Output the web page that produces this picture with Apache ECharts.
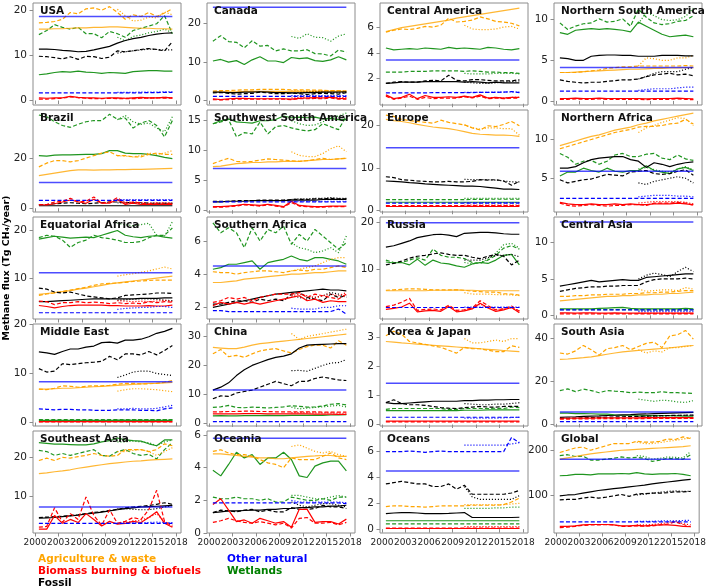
<!DOCTYPE html>
<html>
<head>
<meta charset="utf-8">
<script src="https://cdn.jsdelivr.net/npm/echarts@6/dist/echarts.min.js"></script>
<style>
html, body { margin: 0; padding: 0; background: #fff; }
#chart { width: 709px; height: 588px; }
</style>
</head>
<body>
<div id="chart"></div>
<script>
var years = [2000, 2001, 2002, 2003, 2004, 2005, 2006, 2007, 2008, 2009, 2010, 2011, 2012, 2013, 2014, 2015, 2016, 2017];
var dotYears = [2010, 2011, 2012, 2013, 2014, 2015, 2016, 2017];
var xTicks = [2000, 2003, 2006, 2009, 2012, 2015, 2018];

var regions = ['USA', 'Canada', 'Central America', 'Northern South America',
    'Brazil', 'Southwest South America', 'Europe', 'Northern Africa',
    'Equatorial Africa', 'Southern Africa', 'Russia', 'Central Asia',
    'Middle East', 'China', 'Korea & Japan', 'South Asia',
    'Southeast Asia', 'Oceania', 'Oceans', 'Global'];

var yTicks = [[0, 10, 20], [0, 10, 20], [2, 4, 6], [0, 5, 10],
    [0, 20], [0, 5, 10, 15], [0, 10, 20], [5, 10],
    [10, 20], [2, 4, 6], [10, 20], [0, 5, 10],
    [0, 10, 20], [0, 10, 20, 30], [0, 1, 2, 3], [0, 20, 40],
    [10, 20], [0, 2, 4, 6], [0, 2, 4, 6], [100, 200]];

var yRange = [[-1.0, 21.6], [-1.1, 25.1], [-0.1, 7.95], [-0.5, 12.05],
    [-1.5, 39.2], [-0.3, 16.8], [-0.3, 23.7], [0.65, 13.8],
    [1.6, 22.8], [1.3, 7.45], [-0.3, 21.0], [-0.5, 13.5],
    [-0.7, 20.1], [-0.9, 34.3], [-0.05, 3.45], [-1.0, 46.5],
    [0.5, 26.8], [0.0, 6.25], [-0.3, 7.6], [15, 243]];

// each source: [solid, dashed, dotted (2010-2017)]
// a = agriculture & waste, b = biomass burning & biofuels, f = fossil, o = other natural, w = wetlands
var usa = {
    a: [[15.8,15.8,15.9,15.9,16.0,16.1,16.1,16.2,16.2,16.3,16.3,16.2,16.1,16.0,16.0,15.9,15.9,15.8],
        [17.2,17.3,17.5,18.0,19.5,19.2,20.3,20.5,20.0,20.8,19.5,18.0,19.0,18.6,19.5,18.6,19.4,20.3],
        [20.2,18.8,17.6,17.8,18.5,18.3,19.6,19.0]],
    b: [[0.6,0.5,0.6,0.6,0.9,0.7,0.6,0.6,0.5,0.6,0.6,0.5,0.6,0.7,0.6,0.6,0.7,0.6],
        [0.3,0.3,0.4,0.5,0.8,0.6,0.5,0.4,0.4,0.5,0.4,0.4,0.4,0.5,0.5,0.6,0.5,0.5],
        [0.5,0.5,0.5,0.6,0.6,0.6,0.7,0.6]],
    f: [[11.4,11.4,11.3,11.1,11.0,10.8,10.9,11.2,11.6,12.0,12.7,13.3,13.7,14.0,14.4,14.7,14.9,15.0],
        [9.8,9.7,9.5,9.2,9.7,9.1,9.8,9.7,9.3,9.6,11.0,10.8,11.0,11.3,11.5,11.3,11.0,13.0],
        [10.5,10.8,11.0,11.2,11.4,11.3,11.2,11.2]],
    o: [[18.6,18.6,18.6,18.6,18.6,18.6,18.6,18.6,18.6,18.6,18.6,18.6,18.6,18.6,18.6,18.6,18.6,18.6],
        [1.7,1.7,1.7,1.7,1.7,1.7,1.7,1.7,1.7,1.7,1.7,1.7,1.7,1.7,1.75,1.75,1.8,1.8],
        [1.8,1.8,1.8,1.85,1.85,1.85,1.9,1.9]],
    w: [[5.7,5.9,6.2,6.4,6.3,6.5,6.3,6.2,6.0,6.2,6.1,6.0,6.4,6.5,6.6,6.6,6.5,6.5],
        [14.6,15.5,16.8,16.2,15.8,16.2,14.8,14.8,13.9,15.3,14.8,14.0,15.5,16.0,16.5,17.0,18.8,14.8],
        [14.0,13.2,14.2,14.5,15.0,15.3,15.8,15.0]]
};
var canada = {
    a: [[2.3,2.3,2.3,2.3,2.4,2.4,2.4,2.4,2.4,2.4,2.4,2.4,2.4,2.4,2.4,2.4,2.4,2.4],
        [2.5,2.6,2.6,2.7,2.8,2.8,2.9,2.9,2.9,2.9,2.8,2.8,2.8,2.7,2.7,2.6,2.6,2.5],
        [2.6,2.6,2.5,2.5,2.6,2.6,2.5,2.5]],
    b: [[0.5,0.3,0.5,0.6,0.6,0.5,0.5,0.5,0.5,0.5,0.4,0.6,0.7,0.8,0.7,0.9,0.6,0.5],
        [0.3,0.2,0.3,0.4,0.4,0.4,0.4,0.4,0.4,0.4,0.3,0.5,0.5,0.6,0.5,0.7,0.4,0.4],
        [0.7,0.8,0.9,1.0,0.9,1.0,0.8,0.8]],
    f: [[2.2,2.2,2.1,2.1,2.2,2.2,2.3,2.2,2.1,2.1,2.0,2.0,2.1,2.1,2.2,2.2,2.2,2.3],
        [2.0,2.1,1.9,1.7,1.8,1.9,2.2,2.0,1.8,1.8,2.0,1.8,1.6,1.8,1.9,1.8,1.7,2.1],
        [2.0,2.1,2.2,2.3,2.2,2.1,2.0,2.2]],
    o: [[24.0,24.0,24.0,24.0,24.0,24.0,24.0,24.0,24.0,24.0,24.0,24.0,24.0,24.0,24.0,24.0,24.0,24.0],
        [1.1,1.1,1.1,1.1,1.1,1.1,1.1,1.1,1.1,1.1,1.1,1.1,1.1,1.1,1.1,1.1,1.1,1.1],
        [1.3,1.3,1.3,1.3,1.3,1.3,1.3,1.3]],
    w: [[10.2,10.6,9.9,10.3,9.3,10.5,11.3,10.2,10.2,9.8,11.1,10.8,11.0,10.3,10.1,10.5,11.3,10.5],
        [15.3,16.7,15.2,15.0,13.6,15.4,14.0,14.2,12.8,13.3,12.8,12.8,13.1,12.1,12.0,11.5,13.0,12.5],
        [16.5,16.0,17.2,16.3,16.2,15.3,16.6,17.2]]
};
var centralAmerica = {
    a: [[5.7,5.85,6.0,6.1,6.2,6.3,6.4,6.5,6.6,6.75,6.85,6.95,7.05,7.15,7.25,7.35,7.45,7.55],
        [5.65,5.8,5.9,5.85,5.95,6.1,6.05,6.2,6.75,6.45,6.5,6.6,6.85,6.7,6.5,6.45,6.35,6.15],
        [6.2,5.9,5.85,5.85,5.9,6.05,6.1,5.9]],
    b: [[0.7,0.4,0.5,0.75,0.4,0.65,0.5,0.5,0.55,0.5,0.6,0.5,0.7,0.45,0.5,0.45,0.5,0.5],
        [0.6,0.35,0.45,0.6,0.35,0.5,0.4,0.45,0.45,0.45,0.55,0.45,0.6,0.4,0.45,0.4,0.45,0.45],
        [0.55,0.5,0.6,0.45,0.5,0.45,0.5,0.5]],
    f: [[1.6,1.65,1.7,1.7,1.7,1.75,1.75,1.75,1.75,1.75,1.7,1.75,1.7,1.65,1.7,1.65,1.65,1.65],
        [1.6,1.7,1.75,1.7,1.7,1.8,1.85,1.8,2.25,1.85,1.8,1.9,1.9,1.85,1.8,1.8,1.8,1.9],
        [1.7,1.65,1.6,1.6,1.65,1.7,1.75,1.8]],
    o: [[3.45,3.45,3.45,3.45,3.45,3.45,3.45,3.45,3.45,3.45,3.45,3.45,3.45,3.45,3.45,3.45,3.45,3.45],
        [0.85,0.85,0.85,0.85,0.85,0.85,0.88,0.88,0.88,0.88,0.88,0.88,0.9,0.9,0.9,0.92,0.95,0.88],
        [0.9,0.9,0.9,0.9,0.92,0.92,0.93,0.92]],
    w: [[4.4,4.25,4.3,4.35,4.3,4.4,4.35,4.3,4.45,4.35,4.4,4.35,4.3,4.45,4.4,4.3,4.25,4.35],
        [2.5,2.5,2.5,2.55,2.55,2.55,2.6,2.6,2.6,2.6,2.55,2.6,2.55,2.5,2.5,2.45,2.45,2.4],
        [2.4,2.35,2.35,2.35,2.4,2.4,2.4,2.35]]
};
var northSouthAmerica = {
    a: [[3.5,3.5,3.55,3.6,3.65,3.7,3.75,3.8,3.85,3.9,3.9,3.95,4.0,4.0,4.05,4.05,4.1,4.1],
        [3.5,3.5,3.5,3.6,3.7,3.8,4.0,4.1,4.2,4.2,4.3,4.3,4.3,4.3,4.3,4.3,4.35,4.3],
        [4.3,5.3,5.2,5.0,5.0,5.3,5.3,5.6]],
    b: [[0.3,0.3,0.35,0.3,0.3,0.35,0.3,0.3,0.3,0.3,0.3,0.25,0.3,0.3,0.3,0.35,0.3,0.25],
        [0.2,0.2,0.25,0.2,0.2,0.25,0.2,0.2,0.2,0.2,0.2,0.15,0.2,0.2,0.2,0.25,0.2,0.15],
        null],
    f: [[5.3,5.2,5.0,5.0,5.5,5.6,5.65,5.65,5.6,5.6,5.5,5.5,5.5,5.6,5.6,5.6,5.55,5.55],
        [2.6,2.4,2.3,2.2,2.3,2.3,2.4,2.5,2.6,2.6,2.7,3.0,3.2,3.3,3.4,3.2,3.3,3.1],
        [2.7,3.0,3.4,3.6,3.6,3.6,3.9,4.1]],
    o: [[4.1,4.1,4.1,4.1,4.1,4.1,4.1,4.1,4.1,4.1,4.1,4.1,4.1,4.1,4.1,4.1,4.1,4.1],
        [1.2,1.2,1.2,1.2,1.2,1.2,1.2,1.2,1.2,1.2,1.2,1.2,1.2,1.2,1.2,1.2,1.2,1.2],
        [1.3,1.4,1.5,1.5,1.5,1.6,1.7,1.7]],
    w: [[8.4,8.2,8.7,8.8,8.9,8.8,8.9,8.8,8.7,8.5,9.7,9.2,8.7,8.2,7.9,8.0,8.1,7.9],
        [9.6,8.8,9.2,9.5,9.6,10.1,9.7,9.8,10.1,9.2,11.3,10.3,9.6,9.4,9.5,9.8,9.9,10.5],
        [9.5,10.9,10.5,10.0,9.9,10.0,10.4,11.4]]
};
var brazil = {
    a: [[13.0,13.5,14.0,14.5,15.0,15.3,15.3,15.2,15.3,15.3,15.4,15.4,15.5,15.5,15.6,15.7,15.8,15.9],
        [16.5,18.0,19.0,19.0,18.5,19.0,20.0,21.0,22.0,22.5,21.0,21.0,20.5,20.5,21.5,22.0,21.5,21.5],
        [21.0,20.8,20.5,21.0,22.0,21.5,22.0,23.0]],
    b: [[1.5,1.3,1.8,2.5,3.3,2.6,2.0,3.6,2.0,2.0,3.5,1.5,2.0,1.5,1.5,1.5,1.5,1.5],
        [1.3,1.5,2.5,2.8,4.0,2.5,2.8,4.5,2.0,2.5,4.2,2.0,2.5,2.0,1.8,2.0,2.0,1.8],
        [3.0,2.5,2.5,2.3,2.0,2.2,2.2,2.0]],
    f: [[1.0,1.0,1.0,1.0,1.0,1.0,1.0,1.0,1.0,1.0,1.0,1.0,1.0,1.0,1.0,1.0,1.0,1.0],
        [1.5,1.5,1.8,2.0,2.2,2.0,1.8,2.0,2.2,2.5,2.5,2.3,2.2,2.2,2.0,2.0,2.0,2.0],
        [2.2,2.0,2.0,2.0,2.0,2.0,2.0,2.0]],
    o: [[10.3,10.3,10.3,10.3,10.3,10.3,10.3,10.3,10.3,10.3,10.3,10.3,10.3,10.3,10.3,10.3,10.3,10.3],
        [3.1,3.1,3.1,3.1,3.1,3.1,3.1,3.1,3.1,3.1,3.1,3.1,3.1,3.1,3.1,3.1,3.1,3.1],
        [3.4,3.4,3.4,3.4,3.4,3.4,3.4,3.4]],
    w: [[21.0,20.8,21.2,21.3,21.3,21.4,21.5,21.5,21.8,23.0,23.0,22.0,21.8,21.8,21.5,21.0,20.3,19.8],
        [37.2,36.5,34.5,33.0,32.3,33.5,34.5,35.0,35.0,37.5,35.5,36.0,32.0,34.0,35.0,33.0,28.5,35.0],
        [35.3,37.0,34.5,33.5,34.0,32.0,30.5,36.5]]
};
var swSouthAmerica = {
    a: [[7.3,7.4,7.6,7.8,7.9,8.0,8.0,8.1,8.1,8.2,8.2,8.2,8.3,8.4,8.5,8.5,8.6,8.7],
        [7.8,8.3,8.7,8.2,8.1,8.2,8.4,8.6,8.5,8.4,8.3,8.2,8.3,8.5,8.7,8.5,8.6,8.7],
        [9.8,9.2,9.0,9.0,9.5,10.3,10.8,9.8]],
    b: [[0.6,0.6,0.7,0.8,1.0,0.9,0.8,1.0,0.8,0.6,1.5,0.8,0.7,0.6,0.6,0.7,0.7,0.7],
        [0.5,0.5,0.6,0.7,0.9,0.8,0.7,0.9,0.7,0.5,1.3,0.7,0.6,0.5,0.5,0.6,0.6,0.6],
        null],
    f: [[1.4,1.4,1.5,1.5,1.5,1.6,1.6,1.6,1.6,1.6,1.7,1.7,1.7,1.7,1.8,1.8,1.8,1.8],
        [1.5,1.5,1.5,1.6,1.6,1.6,1.7,1.7,1.7,1.7,1.8,1.8,1.8,1.9,1.9,2.0,1.9,1.9],
        [1.8,1.9,1.9,2.0,2.0,2.1,2.0,2.0]],
    o: [[7.0,7.0,7.0,7.0,7.0,7.0,7.0,7.0,7.0,7.0,7.0,7.0,7.0,7.0,7.0,7.0,7.0,7.0],
        [1.4,1.4,1.4,1.4,1.4,1.4,1.4,1.4,1.4,1.4,1.4,1.4,1.4,1.4,1.4,1.4,1.4,1.4],
        [1.5,1.5,1.5,1.5,1.5,1.5,1.5,1.5]],
    w: [[14.5,15.0,15.3,14.8,14.7,14.6,15.0,15.0,15.2,15.8,15.5,15.6,15.5,15.6,15.3,15.4,15.2,15.2],
        [14.5,14.8,15.2,12.3,13.0,12.8,14.8,12.8,14.0,14.2,13.8,13.5,13.3,13.5,14.5,14.0,13.5,15.8],
        [15.0,14.5,14.2,14.3,14.8,15.5,15.8,16.3]]
};
var europe = {
    a: [[21.5,21.2,21.0,20.7,20.3,20.0,19.7,19.5,19.3,19.0,18.6,18.2,18.0,17.9,17.8,17.8,17.7,17.5],
        [22.5,22.2,21.5,21.2,21.0,20.8,20.6,21.3,20.8,20.5,20.2,19.5,19.0,20.0,19.8,20.3,21.0,20.0],
        [20.2,19.5,19.2,19.5,19.5,19.3,19.3,17.8]],
    b: [[1.0,1.0,1.0,1.0,1.0,1.0,1.0,1.0,1.0,1.0,1.0,1.0,1.0,1.0,1.0,1.0,1.0,1.0],
        [1.2,1.2,1.2,1.2,1.2,1.2,1.2,1.2,1.2,1.2,1.2,1.2,1.2,1.2,1.2,1.2,1.2,1.2],
        [1.3,1.3,1.3,1.3,1.3,1.3,1.3,1.3]],
    f: [[7.0,6.9,6.8,6.6,6.5,6.3,6.2,6.1,6.0,5.9,5.8,5.8,5.7,5.5,5.3,5.1,5.1,5.0],
        [8.0,7.8,7.3,7.2,7.0,6.9,6.8,6.8,6.9,6.8,6.8,6.9,7.3,7.2,7.3,7.0,6.0,6.9],
        [7.4,7.3,7.3,7.3,7.2,7.0,6.8,6.8]],
    o: [[14.8,14.8,14.8,14.8,14.8,14.8,14.8,14.8,14.8,14.8,14.8,14.8,14.8,14.8,14.8,14.8,14.8,14.8],
        [1.8,1.8,1.8,1.8,1.8,1.8,1.8,1.8,1.8,1.8,1.8,1.8,1.8,1.8,1.8,1.8,1.8,1.8],
        [1.9,1.9,1.9,1.9,1.9,1.9,1.9,1.9]],
    w: [[2.0,2.0,2.0,2.0,2.0,2.0,2.0,2.0,2.0,2.0,2.0,2.0,2.0,2.0,2.0,2.0,2.0,2.0],
        [2.6,2.6,2.6,2.6,2.6,2.6,2.6,2.6,2.6,2.6,2.6,2.65,2.65,2.7,2.7,2.7,2.7,2.7],
        [2.9,2.9,2.9,2.9,2.9,2.9,2.9,2.9]]
};
var northAfrica = {
    a: [[9.2,9.5,9.8,10.1,10.4,10.6,10.9,11.2,11.4,11.6,11.9,12.1,12.4,12.6,12.8,13.0,13.2,13.4],
        [8.8,9.1,9.4,9.7,10.0,10.3,10.6,10.9,11.1,11.3,11.6,11.7,11.7,11.8,12.0,12.1,12.6,12.0],
        [10.9,11.5,11.8,12.2,12.5,12.8,12.7,11.8]],
    b: [[1.9,1.7,1.6,1.6,1.7,1.6,1.6,1.7,1.6,1.7,1.6,1.6,1.7,1.7,1.7,1.8,1.7,1.6],
        [1.8,1.5,1.4,1.5,1.6,1.5,1.4,1.5,1.5,1.6,1.6,1.5,1.8,1.8,1.8,1.9,1.8,1.5],
        [1.8,1.9,2.0,2.0,2.0,2.0,1.9,1.7]],
    f: [[6.3,6.3,6.5,7.0,7.4,7.6,7.7,7.8,7.8,7.4,7.2,6.4,7.0,6.8,6.5,6.8,7.0,7.1],
        [4.8,4.4,4.6,4.8,4.9,5.2,5.5,5.4,5.3,5.8,5.9,6.0,5.6,5.5,5.6,5.9,6.1,5.4],
        [4.4,4.2,4.6,4.8,5.0,5.2,5.0,4.4]],
    o: [[5.9,5.9,5.9,5.9,5.9,5.9,5.9,5.9,5.9,5.9,5.9,5.9,5.9,5.9,5.9,5.9,5.9,5.9],
        [2.4,2.4,2.4,2.4,2.4,2.4,2.4,2.4,2.4,2.4,2.4,2.4,2.4,2.4,2.4,2.4,2.4,2.4],
        [2.6,2.7,2.8,2.8,2.8,2.7,2.7,2.6]],
    w: [[5.3,5.8,5.8,6.3,6.0,5.8,6.3,5.9,5.8,6.0,6.0,6.6,6.0,5.8,5.6,6.2,6.4,6.0],
        [8.2,7.7,6.8,7.2,7.3,6.8,7.2,8.0,8.2,7.8,7.8,8.1,8.2,7.6,7.4,8.0,7.5,7.3],
        [6.2,6.4,6.1,5.9,5.8,6.2,6.5,6.1]]
};
var eqAfrica = {
    a: [[6.7,6.9,7.1,7.3,7.5,7.8,8.0,8.3,8.6,8.9,9.1,9.3,9.5,9.7,9.9,10.1,10.3,10.5],
        [6.5,6.8,7.0,7.3,7.6,7.9,8.2,8.6,8.9,9.0,9.1,9.2,9.4,9.5,9.6,9.7,9.7,9.7],
        [10.5,10.8,11.0,11.3,11.6,12.0,12.4,12.0]],
    b: [[4.4,4.2,3.9,4.2,4.4,4.5,4.5,4.5,4.5,4.4,4.4,4.3,4.3,4.3,4.4,4.3,4.3,4.5],
        [5.3,5.2,4.6,5.0,5.0,5.2,5.0,5.1,5.0,4.8,5.0,4.8,4.9,4.8,5.2,5.0,5.2,5.1],
        [5.4,5.3,5.2,5.3,5.2,5.3,5.5,5.2]],
    f: [[5.2,5.2,5.3,5.4,5.5,5.6,5.7,5.8,5.8,5.8,5.8,5.8,5.8,5.9,5.9,5.9,6.0,6.0],
        [8.0,7.8,7.2,7.0,7.2,6.8,6.4,6.2,6.0,5.8,6.0,6.5,6.6,6.7,6.8,7.0,7.0,6.9],
        [5.5,5.6,5.7,5.8,5.8,5.7,5.5,5.4]],
    o: [[11.2,11.2,11.2,11.2,11.2,11.2,11.2,11.2,11.2,11.2,11.2,11.2,11.2,11.2,11.2,11.2,11.2,11.2],
        [2.9,2.9,2.9,2.9,2.9,2.9,2.9,2.9,2.9,2.9,2.9,2.9,2.9,2.9,2.9,2.9,2.9,2.9],
        [3.6,3.8,3.9,4.0,4.0,4.2,4.2,4.0]],
    w: [[18.2,18.5,18.8,18.6,18.4,18.5,18.6,18.5,19.0,19.5,20.0,19.0,18.7,18.5,18.8,18.9,18.6,18.4],
        [18.5,19.0,18.8,18.0,16.5,17.5,18.0,19.0,18.5,18.3,18.0,17.5,17.5,17.7,18.5,19.0,19.0,20.5],
        [21.5,21.2,21.0,21.2,21.5,19.0,18.8,21.8]]
};
var southAfrica = {
    a: [[3.5,3.5,3.55,3.6,3.7,3.75,3.8,3.85,3.9,3.95,4.0,4.0,4.05,4.1,4.1,4.15,4.2,4.2],
        [4.15,4.1,4.1,4.0,4.1,4.15,4.2,4.2,4.15,4.1,4.2,4.25,4.2,4.3,4.3,4.4,4.5,4.4],
        [4.2,4.3,4.4,4.5,4.7,4.9,5.0,5.0]],
    b: [[2.1,2.3,2.2,2.3,2.2,2.3,2.2,2.3,2.4,2.5,2.6,2.7,2.4,2.5,2.3,2.4,2.35,2.35],
        [2.3,2.4,2.6,2.5,2.6,2.4,2.6,2.7,2.8,2.8,2.8,2.9,2.6,2.8,2.7,2.6,2.5,2.8],
        [2.7,2.8,2.7,2.6,2.7,2.8,2.7,2.9]],
    f: [[2.0,2.1,2.2,2.3,2.4,2.5,2.6,2.7,2.8,2.85,2.9,2.95,3.0,3.05,3.1,3.05,3.05,3.0],
        [2.2,2.2,2.3,2.4,2.4,2.3,2.5,2.4,2.5,2.4,2.8,2.9,2.6,2.5,2.4,2.8,2.6,2.7],
        [2.7,2.6,2.5,2.6,2.7,2.9,2.8,2.6]],
    o: [[4.5,4.5,4.5,4.5,4.5,4.5,4.5,4.5,4.5,4.5,4.5,4.5,4.5,4.5,4.5,4.5,4.5,4.5],
        [1.8,1.8,1.75,1.75,1.75,1.75,1.75,1.75,1.75,1.75,1.75,1.75,1.75,1.75,1.75,1.75,1.9,1.6],
        [1.95,1.9,1.9,1.9,2.0,2.0,2.1,2.1]],
    w: [[4.3,4.4,4.6,4.6,4.7,4.8,4.3,4.7,4.8,4.9,5.1,4.9,4.8,5.0,5.0,4.9,4.8,4.6],
        [7.1,6.5,6.8,6.5,5.6,6.8,6.0,6.7,6.5,6.9,5.8,6.4,6.0,6.7,6.3,5.9,5.5,5.9],
        [5.9,5.6,5.5,5.3,5.4,5.6,5.3,6.3]]
};
var russia = {
    a: [[5.6,5.6,5.6,5.6,5.6,5.6,5.7,5.7,5.7,5.8,5.7,5.7,5.6,5.6,5.6,5.6,5.6,5.6],
        [5.7,5.8,5.9,6.0,6.0,5.9,5.8,5.8,5.8,5.8,5.7,5.5,5.4,5.3,5.3,5.0,4.9,4.7],
        [5.2,4.9,4.9,4.9,4.8,4.8,4.7,4.6]],
    b: [[1.7,1.9,2.2,3.0,1.2,1.4,1.5,1.3,2.3,1.2,1.4,1.8,3.0,2.0,1.3,1.6,2.1,1.0],
        [2.3,2.6,3.2,4.0,1.5,1.7,1.8,1.6,2.6,1.5,1.6,2.0,3.5,2.5,1.6,1.8,2.4,1.3],
        [1.6,2.0,2.8,2.2,1.7,1.8,2.0,1.4]],
    f: [[14.7,15.0,15.5,16.0,16.7,17.0,17.3,17.4,17.2,16.9,17.6,17.7,17.8,17.8,17.7,17.5,17.4,17.4],
        [11.0,11.3,11.8,12.4,12.8,13.0,13.3,13.5,13.2,13.0,13.0,12.6,12.3,12.8,13.2,12.8,11.0,12.0],
        [12.0,12.0,12.0,12.5,13.0,13.0,13.2,12.7]],
    o: [[19.8,19.8,19.8,19.8,19.8,19.8,19.8,19.8,19.8,19.8,19.8,19.8,19.8,19.8,19.8,19.8,19.8,19.8],
        [2.1,2.1,2.1,2.1,2.1,2.1,2.1,2.1,2.1,2.1,2.1,2.1,2.1,2.1,2.1,2.1,2.1,2.1],
        [2.2,2.2,2.2,2.2,2.2,2.2,2.2,2.2]],
    w: [[11.6,11.4,11.5,11.0,12.2,10.9,12.0,11.4,11.2,10.8,10.5,11.2,11.5,11.3,12.0,13.0,13.2,11.0],
        [12.0,11.5,11.5,12.0,12.5,12.0,14.3,13.0,12.6,12.6,12.3,11.5,11.3,12.0,13.0,14.5,15.0,14.3],
        [11.5,11.2,11.5,12.2,13.5,15.2,15.5,14.5]]
};
var centralAsia = {
    a: [[2.0,2.1,2.2,2.3,2.4,2.5,2.6,2.6,2.7,2.7,2.8,2.8,2.9,2.9,3.0,3.0,3.1,3.2],
        [2.6,2.6,2.7,2.7,2.8,2.8,2.9,2.9,2.9,3.0,3.0,3.1,3.1,3.2,3.2,3.3,3.4,3.4],
        [3.6,3.3,3.4,3.5,3.5,3.4,3.8,3.6]],
    b: [[0.35,0.35,0.3,0.35,0.35,0.3,0.3,0.35,0.3,0.3,0.3,0.3,0.3,0.3,0.3,0.3,0.3,0.3],
        [0.2,0.2,0.2,0.2,0.2,0.2,0.2,0.2,0.2,0.2,0.2,0.2,0.2,0.2,0.2,0.2,0.2,0.2],
        [0.3,0.3,0.3,0.3,0.3,0.3,0.3,0.3]],
    f: [[4.0,4.2,4.4,4.6,4.8,4.6,4.7,4.8,4.9,4.8,4.8,5.2,5.3,5.4,5.5,5.6,5.7,5.7],
        [3.3,3.5,3.7,3.8,3.9,3.9,4.0,4.0,4.1,4.1,4.1,4.6,4.9,5.0,5.0,5.0,5.1,5.0],
        [5.0,5.5,5.8,5.6,5.3,6.0,6.6,6.0]],
    o: [[12.8,12.8,12.8,12.8,12.8,12.8,12.8,12.8,12.8,12.8,12.8,12.8,12.8,12.8,12.8,12.8,12.8,12.8],
        [0.75,0.75,0.75,0.75,0.75,0.75,0.75,0.75,0.75,0.75,0.75,0.75,0.75,0.75,0.75,0.75,0.75,0.75],
        [0.55,0.55,0.55,0.55,0.55,0.55,0.55,0.55]],
    w: [[0.9,0.9,0.9,0.9,0.9,0.95,1.0,1.05,1.1,0.95,0.9,0.9,0.9,0.9,0.9,0.9,0.95,0.9],
        [0.8,0.8,0.8,0.8,0.8,0.8,0.8,0.8,0.8,0.8,0.8,0.8,0.8,0.8,0.8,0.8,0.8,0.8],
        [0.7,0.7,0.75,0.7,0.7,0.7,0.75,0.8]]
};
var middleEast = {
    a: [[6.8,6.8,6.9,7.0,7.0,7.1,7.2,7.3,7.4,7.5,7.6,7.7,7.8,7.9,8.0,8.0,8.1,8.2],
        [6.8,6.7,7.0,7.5,7.4,7.2,7.4,7.5,7.5,7.6,7.8,8.0,8.0,7.9,7.9,8.0,8.2,8.6],
        [6.4,6.7,6.9,6.9,6.8,6.7,6.5,6.3]],
    b: [[0.2,0.2,0.2,0.2,0.2,0.2,0.2,0.2,0.2,0.2,0.2,0.2,0.2,0.2,0.2,0.2,0.2,0.2],
        [0.15,0.15,0.15,0.15,0.15,0.15,0.15,0.15,0.15,0.15,0.15,0.15,0.15,0.15,0.15,0.15,0.15,0.15],
        null],
    f: [[14.4,14.2,13.9,14.5,15.0,15.0,15.4,15.6,16.3,16.4,16.2,16.8,16.8,17.0,17.5,18.2,18.6,19.2],
        [11.0,10.3,10.5,12.0,11.8,12.0,12.2,12.3,12.5,13.5,12.8,14.0,14.0,13.8,14.5,13.8,14.7,15.7],
        [9.2,9.7,10.3,10.5,10.5,10.0,9.8,9.6]],
    o: [[8.3,8.3,8.3,8.3,8.3,8.3,8.3,8.3,8.3,8.3,8.3,8.3,8.3,8.3,8.3,8.3,8.3,8.3],
        [2.8,2.7,2.6,2.7,2.7,2.6,2.6,2.5,2.5,2.5,2.6,2.6,2.6,2.5,2.5,2.4,2.8,3.0],
        [2.8,2.8,2.9,2.8,2.8,2.9,3.2,3.5]],
    w: [[0.45,0.45,0.45,0.45,0.45,0.45,0.45,0.45,0.45,0.45,0.45,0.45,0.45,0.45,0.45,0.45,0.45,0.45],
        [0.6,0.6,0.6,0.6,0.6,0.6,0.6,0.6,0.6,0.6,0.6,0.6,0.6,0.6,0.6,0.6,0.6,0.6],
        [0.55,0.55,0.55,0.55,0.55,0.55,0.55,0.55]]
};
var china = {
    a: [[26.2,26.0,25.8,25.8,26.3,27.0,27.5,27.8,28.1,28.4,28.7,29.0,29.3,29.6,29.9,30.2,30.5,30.8],
        [24.0,25.5,23.0,23.5,22.8,24.0,25.0,25.5,25.8,25.0,24.3,25.5,26.5,27.0,27.0,26.0,28.5,27.0],
        [31.0,29.0,30.0,30.5,31.0,31.5,32.0,32.5]],
    b: [[3.3,3.3,3.3,3.3,3.4,3.4,3.4,3.3,3.3,3.3,3.3,3.3,3.3,3.2,3.2,3.2,3.1,3.1],
        [4.0,4.0,4.1,4.1,4.2,4.2,4.1,4.1,4.0,4.0,4.0,4.0,4.0,4.0,3.9,3.9,3.9,3.9],
        [3.7,3.7,3.7,3.6,3.6,3.6,3.5,3.5]],
    f: [[11.5,12.5,14.0,16.5,18.5,20.0,21.0,22.0,22.8,23.2,24.0,26.0,27.0,27.2,27.3,27.4,27.5,27.5],
        [8.5,9.5,9.3,10.5,11.0,11.5,12.5,13.5,14.5,13.7,13.0,14.5,14.5,15.5,16.0,15.5,15.0,14.8],
        [18.2,18.3,18.0,19.0,20.0,20.8,21.0,22.0]],
    o: [[11.5,11.5,11.5,11.5,11.5,11.5,11.5,11.5,11.5,11.5,11.5,11.5,11.5,11.5,11.5,11.5,11.5,11.5],
        [0.6,0.6,0.6,0.6,0.6,0.6,0.6,0.6,0.6,0.6,0.6,0.6,0.6,0.6,0.6,0.6,0.6,0.6],
        null],
    w: [[2.6,2.7,2.6,2.6,2.7,2.7,2.7,2.8,2.7,2.7,2.8,2.8,2.8,2.8,2.8,2.9,2.9,3.0],
        [5.5,5.7,6.2,5.5,5.4,5.6,5.5,5.3,5.5,5.7,6.1,5.9,5.6,5.7,6.0,6.6,6.8,6.4],
        [5.6,5.0,5.3,5.5,5.7,6.0,6.2,5.7]]
};
var koreaJapan = {
    a: [[2.85,2.83,2.8,2.78,2.76,2.74,2.72,2.7,2.68,2.66,2.64,2.62,2.6,2.58,2.56,2.54,2.52,2.5],
        [3.05,3.2,3.1,2.85,2.8,2.75,2.7,2.65,2.55,2.45,2.65,2.6,2.6,2.55,2.5,2.5,2.7,2.65],
        [2.95,2.8,2.8,2.85,2.9,2.85,2.95,2.95]],
    b: [[0.12,0.12,0.12,0.12,0.12,0.12,0.12,0.12,0.12,0.12,0.12,0.12,0.12,0.12,0.12,0.12,0.12,0.12],
        [0.09,0.09,0.09,0.09,0.09,0.09,0.09,0.09,0.09,0.09,0.09,0.09,0.09,0.09,0.09,0.09,0.09,0.09],
        null],
    f: [[0.75,0.72,0.72,0.74,0.76,0.78,0.8,0.8,0.8,0.8,0.82,0.82,0.84,0.84,0.85,0.85,0.86,0.86],
        [0.75,0.85,0.72,0.68,0.68,0.66,0.62,0.58,0.56,0.55,0.58,0.6,0.62,0.6,0.6,0.62,0.62,0.62],
        [0.72,0.7,0.68,0.68,0.7,0.7,0.72,0.75]],
    o: [[1.42,1.42,1.42,1.42,1.42,1.42,1.42,1.42,1.42,1.42,1.42,1.42,1.42,1.42,1.42,1.42,1.42,1.42],
        [0.25,0.25,0.25,0.25,0.25,0.25,0.25,0.25,0.25,0.25,0.25,0.25,0.25,0.25,0.25,0.25,0.25,0.25],
        [0.22,0.22,0.22,0.22,0.22,0.23,0.24,0.25]],
    w: [[0.48,0.48,0.48,0.48,0.48,0.48,0.48,0.48,0.48,0.48,0.49,0.49,0.49,0.5,0.5,0.5,0.5,0.5],
        [0.52,0.55,0.55,0.55,0.55,0.55,0.55,0.55,0.52,0.52,0.55,0.55,0.55,0.55,0.56,0.55,0.6,0.58],
        null]
};
var southAsia = {
    a: [[30.0,30.2,30.5,30.8,31.2,31.8,32.4,33.0,33.5,33.9,34.2,34.5,34.8,35.1,35.4,35.8,36.2,36.5],
        [33.0,32.5,34.0,36.5,34.5,32.0,35.0,35.5,36.5,34.5,36.0,37.5,38.0,35.5,41.0,41.5,43.5,39.5],
        [34.5,33.0,34.0,33.5,35.5,35.5,36.0,36.5]],
    b: [[2.6,2.6,2.7,2.7,2.7,2.8,2.8,2.8,2.8,2.8,2.8,2.9,2.9,2.9,2.9,2.9,2.9,2.9],
        [2.2,2.2,2.3,2.3,2.3,2.4,2.4,2.4,2.4,2.4,2.4,2.5,2.5,2.5,2.5,2.5,2.5,2.5],
        [2.6,2.6,2.7,2.7,2.7,2.7,2.8,2.8]],
    f: [[3.0,3.2,3.3,3.5,3.6,3.7,3.9,4.0,4.2,4.3,4.5,4.6,4.8,4.9,5.0,5.1,5.2,5.3],
        [2.5,2.6,2.7,2.8,2.9,3.0,3.1,3.2,3.3,3.4,3.5,3.6,3.7,3.8,3.9,4.0,4.0,4.1],
        [3.4,3.5,3.6,3.7,3.8,3.9,4.0,4.0]],
    o: [[5.5,5.5,5.5,5.5,5.5,5.5,5.5,5.5,5.5,5.5,5.5,5.5,5.5,5.5,5.5,5.5,5.5,5.5],
        [1.0,1.0,1.0,1.0,1.0,1.0,1.0,1.0,1.0,1.0,1.0,1.0,1.0,1.0,1.0,1.0,1.0,1.0],
        null],
    w: [[5.0,5.0,4.8,4.8,4.7,4.5,4.5,4.2,4.0,4.0,4.0,3.9,3.8,3.8,3.8,3.7,3.6,3.6],
        [15.5,16.3,15.0,16.2,15.5,14.5,15.5,15.2,15.0,14.5,14.8,14.5,14.5,15.0,14.5,14.5,14.3,14.2],
        [11.5,11.0,10.5,11.0,10.8,10.2,10.0,10.8]]
};
var seAsia = {
    a: [[15.8,16.0,16.3,16.5,16.8,17.2,17.5,17.8,18.1,18.4,18.6,18.8,19.0,19.1,19.3,19.4,19.5,19.6],
        [19.2,19.8,19.2,20.0,19.8,20.2,20.5,21.0,20.5,20.3,20.5,22.0,22.0,22.0,21.5,22.0,23.5,23.0],
        [21.5,21.5,21.8,22.0,21.5,20.5,21.5,22.5]],
    b: [[1.5,1.5,5.0,3.0,4.0,3.2,5.5,4.0,2.3,3.5,2.8,3.0,3.5,3.2,4.5,6.0,3.0,2.0],
        [2.0,2.2,7.0,3.3,5.5,4.0,9.8,5.0,2.5,6.5,3.0,3.5,4.5,4.0,6.5,11.5,3.5,2.2],
        [3.0,3.2,3.6,3.8,4.5,5.5,3.5,2.5]],
    f: [[4.3,4.4,4.5,4.7,4.9,5.1,5.4,5.6,5.9,6.2,6.5,6.8,7.0,7.2,7.3,7.4,7.5,7.6],
        [4.5,4.6,4.7,4.8,5.0,5.2,5.5,5.8,6.0,6.3,6.6,7.0,7.2,7.4,7.6,7.9,8.3,7.9],
        [6.8,6.8,6.6,6.5,6.5,6.8,7.2,7.6]],
    o: [[7.2,7.2,7.2,7.2,7.2,7.2,7.2,7.2,7.2,7.2,7.2,7.2,7.2,7.2,7.2,7.2,7.2,7.2],
        [3.0,3.0,3.0,3.0,3.0,3.0,3.0,3.0,3.0,3.0,3.0,3.0,3.0,3.0,3.0,3.0,3.0,3.0],
        [3.0,3.0,3.1,3.1,3.2,3.3,3.2,3.2]],
    w: [[23.8,23.6,23.4,23.4,23.3,23.2,23.2,23.5,24.0,24.3,25.0,24.5,24.3,24.2,23.5,23.0,24.5,24.5],
        [21.8,21.5,20.5,21.0,20.5,21.0,21.5,22.0,20.5,20.3,21.5,22.0,21.0,20.5,20.8,19.6,22.0,23.8],
        [24.0,24.0,24.2,24.0,23.8,23.0,24.0,24.5]]
};
var oceania = {
    a: [[4.85,4.85,4.8,4.75,4.7,4.65,4.6,4.6,4.55,4.55,4.6,4.65,4.7,4.72,4.75,4.75,4.7,4.7],
        [5.0,5.1,4.9,4.8,4.8,4.7,4.5,4.3,4.2,4.0,4.6,4.5,4.5,4.5,4.7,4.9,4.6,4.5],
        [5.3,5.4,5.2,5.0,4.9,5.0,4.8,4.7]],
    b: [[1.75,2.1,1.4,0.7,0.8,0.6,0.9,0.75,0.6,0.7,0.35,1.45,1.45,0.65,0.7,0.7,0.55,0.85],
        [0.65,0.75,0.9,0.75,0.65,0.6,0.7,0.6,0.5,0.6,0.3,0.9,0.95,0.6,0.6,0.65,0.5,0.65],
        null],
    f: [[1.25,1.3,1.35,1.35,1.38,1.4,1.4,1.45,1.45,1.5,1.5,1.55,1.55,1.6,1.6,1.65,1.65,1.7],
        [1.25,1.4,1.35,1.3,1.4,1.45,1.3,1.4,1.3,1.3,1.55,1.45,1.45,1.5,1.7,1.6,1.6,1.5],
        [1.9,1.7,1.6,1.7,1.8,1.8,1.7,1.6]],
    o: [[5.8,5.8,5.8,5.8,5.8,5.8,5.8,5.8,5.8,5.8,5.8,5.8,5.8,5.8,5.8,5.8,5.8,5.8],
        [1.85,1.85,1.85,1.85,1.85,1.85,1.85,1.85,1.85,1.85,1.85,1.85,1.85,1.85,1.85,1.85,1.85,1.8],
        [2.0,1.9,1.9,1.9,1.9,1.9,1.9,1.85]],
    w: [[3.85,3.5,4.2,4.95,4.6,4.8,4.2,4.6,4.6,4.95,4.5,3.5,3.4,4.1,4.3,4.4,4.4,3.8],
        [2.2,2.1,2.1,2.2,2.1,2.1,2.0,2.1,1.9,1.9,2.2,2.1,2.0,2.0,2.1,2.0,2.2,2.2],
        [2.3,2.3,2.2,2.1,2.1,2.2,2.3,2.2]]
};
var oceans = {
    a: [null,
        [1.75,1.8,1.8,1.75,1.75,1.7,1.75,1.8,1.8,1.8,1.8,1.85,1.85,1.85,1.85,1.9,2.1,2.4],
        [1.9,1.9,1.9,1.9,1.9,1.9,1.95,2.0]],
    b: [[0.05,0.05,0.05,0.05,0.05,0.05,0.05,0.05,0.05,0.05,0.05,0.05,0.05,0.05,0.05,0.05,0.05,0.05],
        [0.08,0.08,0.08,0.08,0.08,0.08,0.08,0.08,0.08,0.08,0.08,0.08,0.08,0.08,0.08,0.08,0.08,0.08],
        [0.2,0.2,0.2,0.2,0.2,0.2,0.2,0.2]],
    f: [[1.2,1.25,1.28,1.28,1.25,1.2,1.2,1.2,1.22,1.25,1.28,0.9,0.9,0.9,0.9,0.9,0.9,0.92],
        [3.5,3.6,3.7,3.6,3.5,3.5,3.3,3.3,3.5,3.1,3.4,2.7,2.7,2.7,2.7,2.7,2.8,3.0],
        [3.3,2.5,2.3,2.3,2.3,2.3,2.3,2.6]],
    o: [[4.5,4.5,4.5,4.5,4.5,4.5,4.5,4.5,4.5,4.5,4.5,4.5,4.5,4.5,4.5,4.5,4.5,4.5],
        [6.0,6.0,6.0,6.05,6.0,5.95,6.0,6.05,6.0,6.0,6.0,6.0,6.0,6.0,6.0,6.0,7.1,6.7],
        [6.5,6.5,6.5,6.5,6.5,6.5,6.6,6.7]],
    w: [[0.65,0.65,0.65,0.65,0.65,0.65,0.65,0.65,0.65,0.65,0.65,0.65,0.65,0.65,0.65,0.65,0.65,0.65],
        [0.4,0.4,0.4,0.4,0.4,0.4,0.4,0.4,0.4,0.4,0.4,0.4,0.4,0.4,0.4,0.4,0.4,0.4],
        [1.6,1.6,1.6,1.6,1.65,1.65,1.7,1.7]]
};
var globalFlux = {
    a: [[180,183,186,189,192,194,196,198,200,201,202,203,204,205,206,207,208,210],
        [195,200,205,207,200,205,210,215,215,215,220,218,218,220,225,224,230,226],
        [218,215,215,217,220,222,225,228]],
    b: [[30,30,31,33,34,34,34,33,31,31,32,31,32,33,33,32,30,29],
        [27,28,30,32,33,33,34,33,30,30,31,30,31,33,35,40,34,29],
        [33,33,34,36,38,42,36,33]],
    f: [[98,100,101,104,107,110,112,114,116,118,120,122,125,127,129,131,133,135],
        [89,90,90,93,95,93,95,98,101,97,102,103,104,104,105,107,107,108],
        [100,102,104,106,108,109,108,108]],
    o: [[180,180,180,180,180,180,180,180,180,180,180,180,180,180,180,180,180,180],
        [40,40,40,40,40,40,40,40,40,40,40,40,40,40,40,40,40,40],
        [41,41,41,42,42,42,43,43]],
    w: [[143,144,146,146,145,147,147,147,148,147,150,147,146,147,147,148,146,143],
        [188,190,186,187,178,178,180,182,185,183,184,182,175,178,182,181,180,190],
        [188,186,180,182,185,184,183,197]]
};

var panels = [usa, canada, centralAmerica, northSouthAmerica,
    brazil, swSouthAmerica, europe, northAfrica,
    eqAfrica, southAfrica, russia, centralAsia,
    middleEast, china, koreaJapan, southAsia,
    seAsia, oceania, oceans, globalFlux];

var colors = { a: '#ffa500', b: '#ff0000', f: '#000000', o: '#0000ff', w: '#1f951f' };
var drawOrder = ['w', 'a', 'f', 'b', 'o'];
var dashes = ['solid', [4, 2.2], [1.1, 1.9]];

var colLeft = [33, 207, 380, 554];
var rowTop = [3, 110, 217, 324, 431];
var panelW = 148, panelH = 102;
var font = 'DejaVu Sans';

var grids = [], xAxes = [], yAxes = [], titles = [], series = [];

regions.forEach(function (name, i) {
    var col = i % 4, row = Math.floor(i / 4);
    grids.push({
        left: colLeft[col], top: rowTop[row], width: panelW, height: panelH,
        show: true, borderColor: '#8c8c8c', borderWidth: 1, backgroundColor: 'transparent'
    });
    xAxes.push({
        gridIndex: i, type: 'value', min: 1999.75, max: 2018.6,
        axisLine: { show: false }, splitLine: { show: false },
        axisTick: { show: true, customValues: xTicks, length: 3.5, lineStyle: { color: '#8c8c8c' } },
        axisLabel: { show: row === 4, customValues: xTicks, fontSize: 9, color: '#222',
            fontFamily: font, margin: 5, showMinLabel: true, showMaxLabel: true, hideOverlap: false,
            formatter: function (v) { return String(v); } }
    });
    yAxes.push({
        gridIndex: i, type: 'value', min: yRange[i][0], max: yRange[i][1],
        axisLine: { show: false }, splitLine: { show: false },
        axisTick: { show: true, customValues: yTicks[i], length: 3.5, lineStyle: { color: '#8c8c8c' } },
        axisLabel: { customValues: yTicks[i], fontSize: 10.5, color: '#222',
            fontFamily: font, margin: 6, showMinLabel: true, showMaxLabel: true,
            formatter: function (v) { return String(v); } }
    });
    titles.push({
        text: name, left: colLeft[col] + 7, top: rowTop[row] + 3, padding: 0,
        textStyle: { fontSize: 10.5, fontWeight: 'bold', fontFamily: font, color: '#111' }
    });
    var p = panels[i];
    drawOrder.forEach(function (k) {
        p[k].forEach(function (vals, s) {
            if (!vals) return;
            var xs = s === 2 ? dotYears : years;
            var op = 1;
            if (s === 0 && k === 'o') op = 0.7;
            if (s === 0 && k === 'a') op = 0.8;
            series.push({
                type: 'line', xAxisIndex: i, yAxisIndex: i,
                showSymbol: false, silent: true, animation: false,
                data: vals.map(function (v, j) { return [xs[j] + 0.5, v]; }),
                lineStyle: { color: colors[k], width: s === 0 && k === 'o' ? 1.5 : 1.2,
                    type: dashes[s], opacity: op }
            });
        });
    });
});

var legendItems = [
    { text: 'Agriculture & waste', color: '#ffa500', x: 38, y: 559 },
    { text: 'Biomass burning & biofuels', color: '#ff0000', x: 38, y: 571.5 },
    { text: 'Fossil', color: '#000000', x: 38, y: 583.5 },
    { text: 'Other natural', color: '#0000ff', x: 227, y: 559 },
    { text: 'Wetlands', color: '#008000', x: 227, y: 571.5 }
];
var graphics = legendItems.map(function (it) {
    return {
        type: 'text', x: it.x, y: it.y,
        style: { text: it.text, fill: it.color, font: 'bold 10.5px "DejaVu Sans"',
            textAlign: 'left', textVerticalAlign: 'middle', verticalAlign: 'middle' }
    };
});
graphics.push({
    type: 'text', x: 7, y: 268, rotation: Math.PI / 2,
    style: { text: 'Methane flux (Tg CH\u2084/year)', fill: '#000', font: 'bold 9.5px "DejaVu Sans"',
        textAlign: 'center', align: 'center', textVerticalAlign: 'middle', verticalAlign: 'middle' }
});

var chart = echarts.init(document.getElementById('chart'));
chart.setOption({
    animation: false,
    backgroundColor: '#fff',
    title: titles,
    grid: grids,
    xAxis: xAxes,
    yAxis: yAxes,
    series: series,
    graphic: graphics
});
</script>
</body>
</html>
